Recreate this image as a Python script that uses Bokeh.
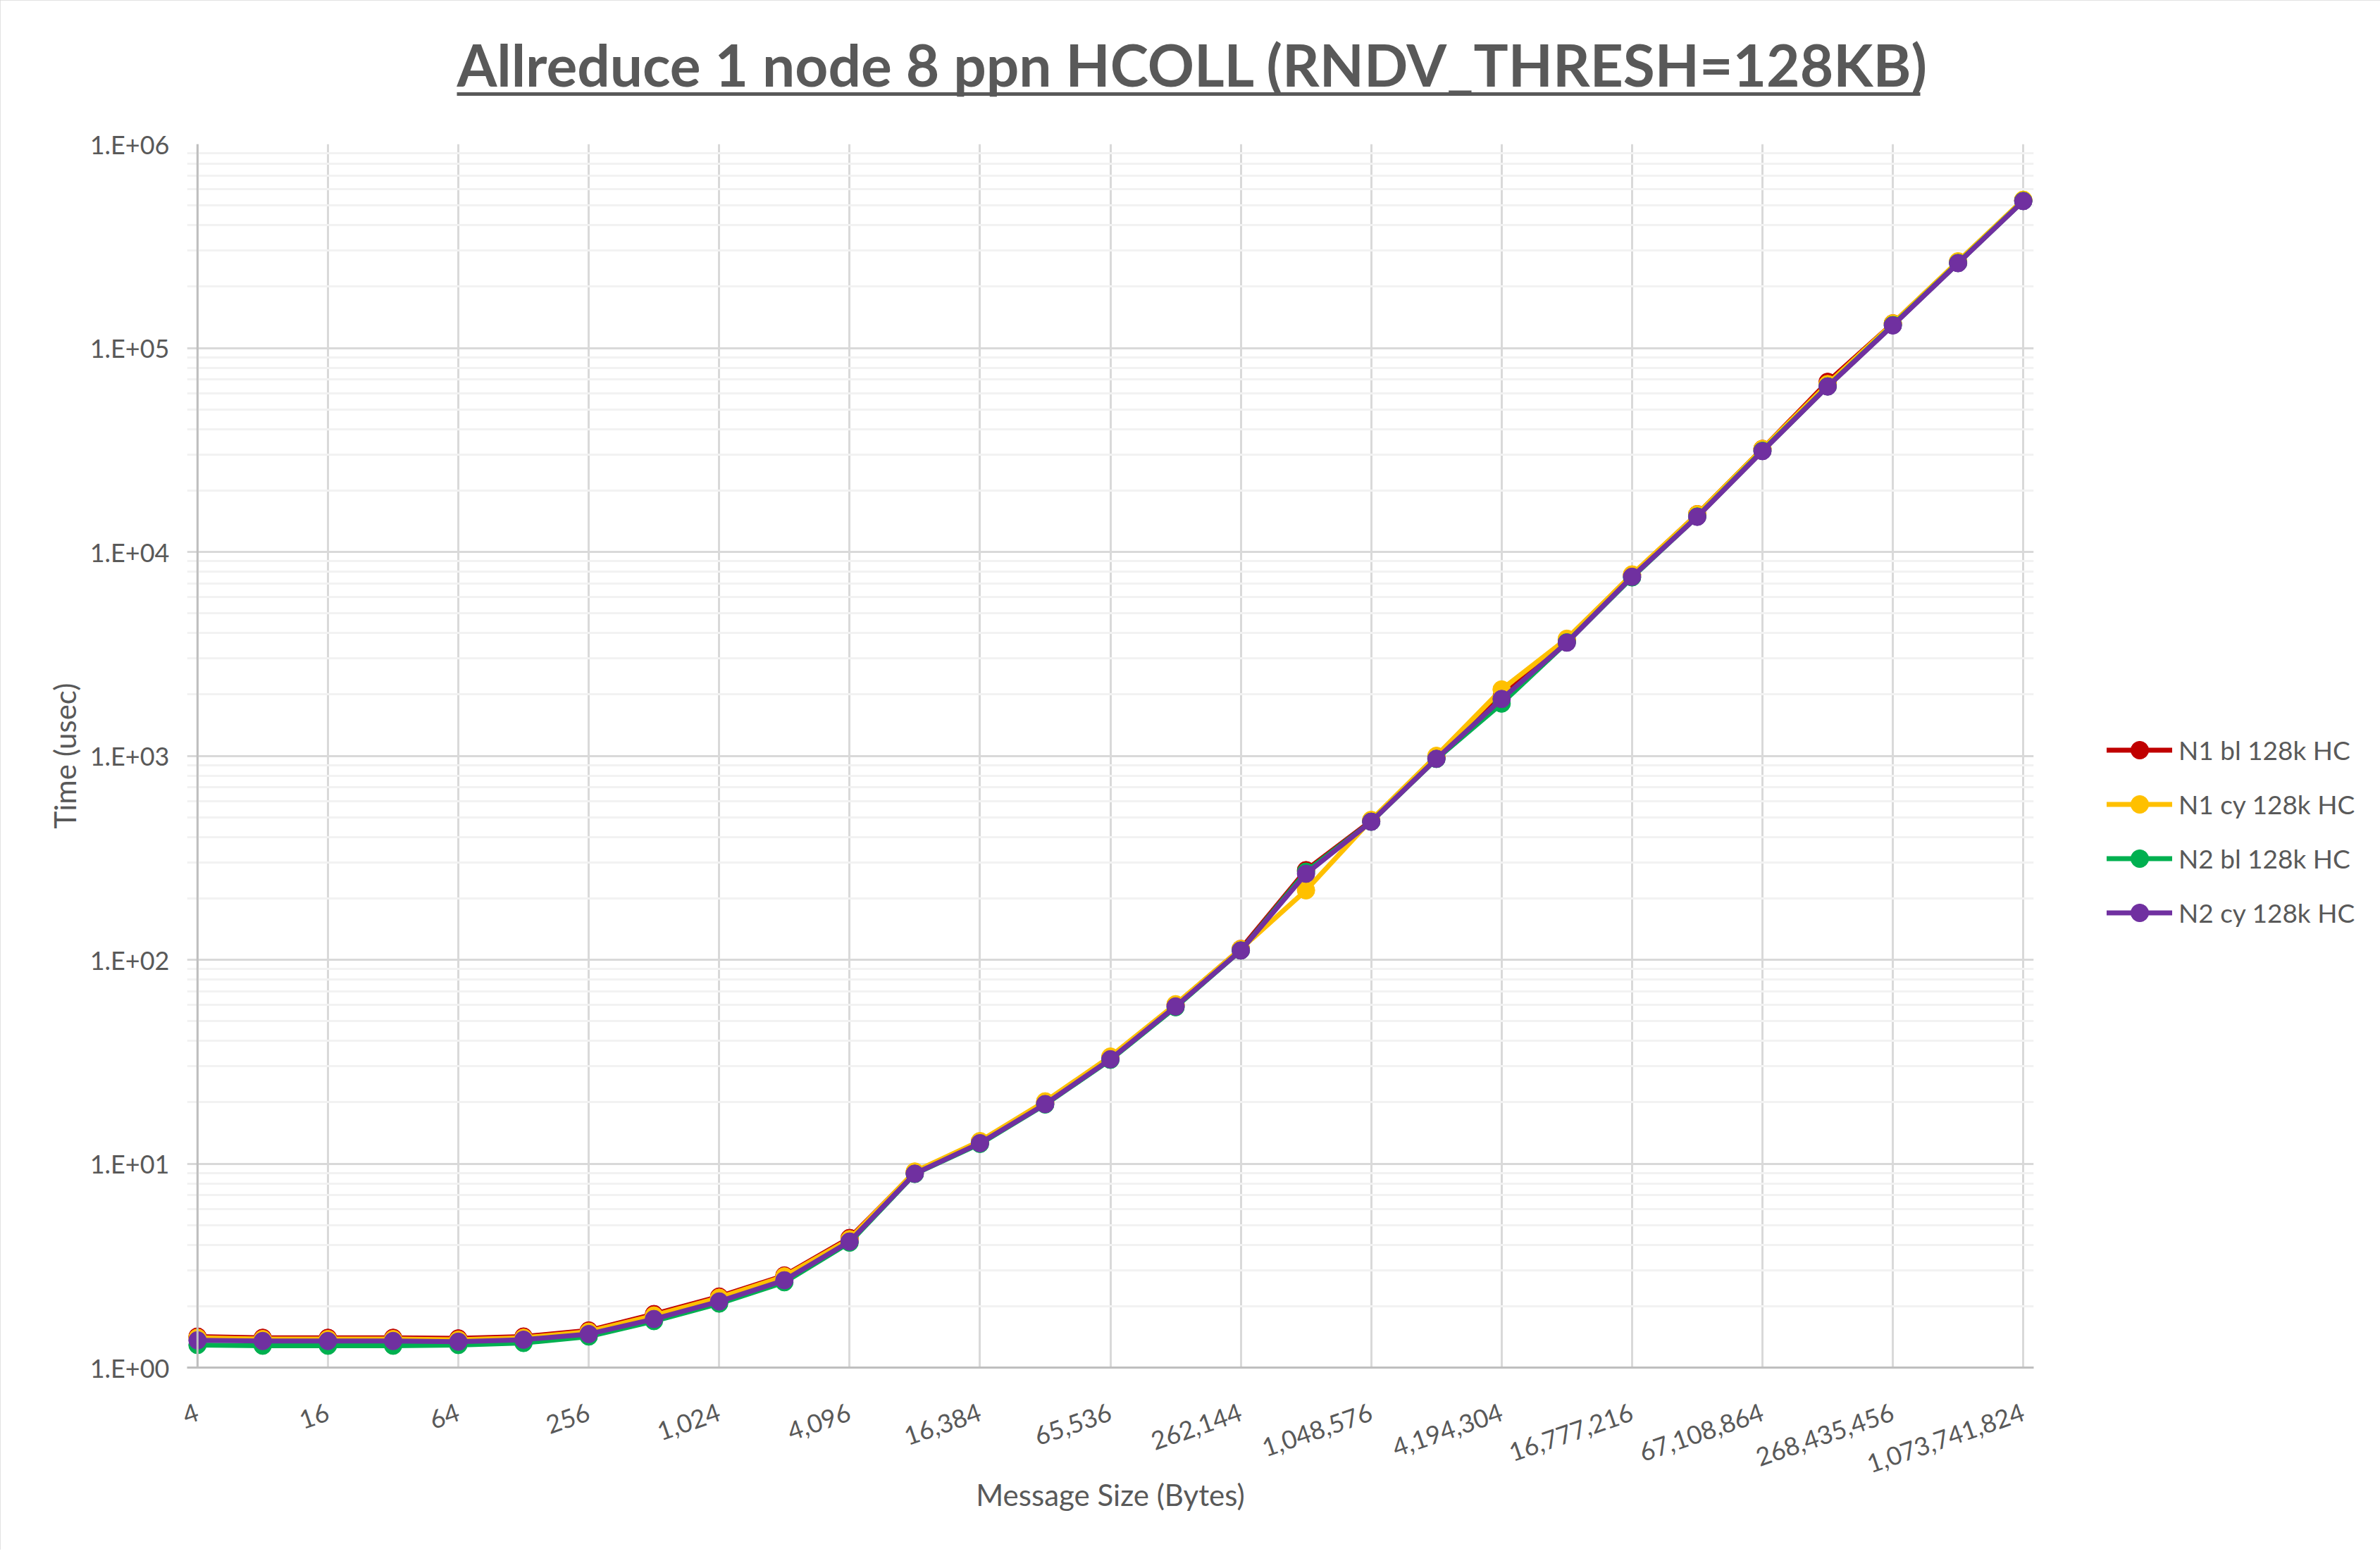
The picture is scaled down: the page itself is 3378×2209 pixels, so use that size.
import math
from bokeh.plotting import figure
from bokeh.models import (Range1d, FixedTicker, Legend, LegendItem, Span, LinearAxis,
                          LinearScale)
from bokeh.embed import file_html
from bokeh.resources import INLINE

# message sizes (bytes)
sizes = [4, 8, 16, 32, 64, 128, 256, 512, 1024, 2048, 4096, 8192, 16384, 32768,
         65536, 131072, 262144, 524288, 1048576, 2097152, 4194304, 8388608,
         16777216, 33554432, 67108864, 134217728, 268435456, 536870912, 1073741824]

# time (usec)
n1_bl = [1.42, 1.40, 1.40, 1.40, 1.39, 1.42, 1.52, 1.83, 2.23, 2.83, 4.32, 9.05, 12.8, 19.9,
         33.0, 60.0, 113, 275, 480, 985, 1950, 3700, 7700, 15300, 32000, 68200, 132000,
         264000, 530000]
n1_cy = [1.40, 1.38, 1.38, 1.38, 1.37, 1.40, 1.50, 1.80, 2.20, 2.80, 4.26, 9.15, 12.9, 20.2,
         33.5, 60.5, 113, 219, 485, 1000, 2115, 3750, 7750, 15300, 32000, 66500, 132000,
         266000, 533000]
n2_bl = [1.29, 1.28, 1.28, 1.28, 1.29, 1.32, 1.42, 1.69, 2.06, 2.62, 4.10, 8.90, 12.5, 19.5,
         32.3, 58.5, 111, 270, 475, 965, 1804, 3600, 7500, 14900, 31300, 64800, 129500,
         261000, 526000]
n2_cy = [1.36, 1.35, 1.35, 1.35, 1.34, 1.37, 1.46, 1.73, 2.11, 2.68, 4.15, 8.93, 12.6, 19.6,
         32.5, 59.0, 111, 264, 475, 967, 1900, 3590, 7550, 14860, 31200, 64700, 129000,
         260500, 525000]

series_names = ["N1 bl 128k HC", "N1 cy 128k HC", "N2 bl 128k HC", "N2 cy 128k HC"]
series_colors = ["#C00000", "#FFC000", "#00B050", "#7030A0"]

x_ticks = [4, 16, 64, 256, 1024, 4096, 16384, 65536, 262144, 1048576, 4194304,
           16777216, 67108864, 268435456, 1073741824]
x_tick_labels = ["4", "16", "64", "256", "1,024", "4,096", "16,384", "65,536", "262,144",
                 "1,048,576", "4,194,304", "16,777,216", "67,108,864", "268,435,456",
                 "1,073,741,824"]
y_ticks = [1, 10, 100, 1000, 10000, 100000, 1000000]
y_tick_labels = ["1.E+00", "1.E+01", "1.E+02", "1.E+03", "1.E+04", "1.E+05", "1.E+06"]
y_minor = [m * t for t in y_ticks[:-1] for m in range(2, 10)]

FONT = "Lato"
GREY = "#595959"

FL, FR = 265, 2886          # frame left / right on the canvas
pad = 2 ** 0.16             # room so the end markers are not cut
p = figure(x_axis_type="log", y_axis_type="log",
           x_range=Range1d(4 / pad, 1073741824 * pad), y_range=Range1d(1, 1e6),
           frame_width=FR - FL, frame_height=1737,
           min_border_left=FL, min_border_right=3370 - FR, min_border_top=204,
           min_border_bottom=259,
           output_backend="svg", toolbar_location=None,
           background_fill_color="white", border_fill_color="white")
p.outline_line_color = None
p.styles = {"outline": "3px solid #D9D9D9", "outline-offset": "-3px"}

xax = p.below[0]
yax = p.left[0]

# underline for the title: an extra axis line, lifted off the frame by a blank axis
p.extra_x_ranges = {"ul": Range1d(FL, FR)}
p.extra_x_scales = {"ul": LinearScale()}
mid = (FL + FR) / 2
spacer = LinearAxis(x_range_name="ul", ticker=FixedTicker(ticks=[mid]),
                    major_label_overrides={mid: ""}, major_label_text_font_size="0px",
                    axis_line_color=None, major_tick_line_color=None,
                    minor_tick_line_color=None, major_tick_out=71, minor_tick_out=0,
                    major_tick_in=0, major_label_standoff=0)
underline = LinearAxis(x_range_name="ul", ticker=FixedTicker(ticks=[]), bounds=(648, 2725),
                       axis_line_color=GREY, axis_line_width=5,
                       major_tick_line_color=None, minor_tick_line_color=None,
                       major_tick_out=0, minor_tick_out=0, major_label_standoff=0)
p.add_layout(spacer, "above")
p.add_layout(underline, "above")

# title
p.title.text = "Allreduce 1 node 8 ppn HCOLL (RNDV_THRESH=128KB)"
p.title.text_font = FONT
p.title.text_font_size = "82px"
p.title.text_font_style = "bold"
p.title.text_color = GREY
p.title.align = "left"
p.title.offset = 648 - FL
p.title.standoff = -12

# axes
xax.ticker = FixedTicker(ticks=x_ticks)
xax.major_label_overrides = dict(zip(x_ticks, x_tick_labels))
yax.ticker = FixedTicker(ticks=y_ticks, minor_ticks=y_minor)
yax.major_label_overrides = dict(zip(y_ticks, y_tick_labels))

for ax in (xax, yax):
    ax.major_tick_line_color = None
    ax.minor_tick_line_color = None
    ax.major_label_text_font = FONT
    ax.major_label_text_font_size = "36px"
    ax.major_label_text_color = GREY
    ax.axis_label_text_font = FONT
    ax.axis_label_text_font_size = "42px"
    ax.axis_label_text_font_style = "normal"
    ax.axis_label_text_color = GREY

xax.axis_label = "Message Size (Bytes)"
xax.major_label_orientation = math.radians(19)
xax.major_label_standoff = 56
xax.axis_label_standoff = -10
xax.axis_line_color = "#BFBFBF"
xax.axis_line_width = 3

yax.axis_label = "Time (usec)"
yax.major_label_standoff = 19
yax.axis_label_standoff = 8
yax.axis_line_color = None

p.xgrid.grid_line_color = "#D9D9D9"
p.xgrid.grid_line_width = 3
p.ygrid.grid_line_color = "#D9D9D9"
p.ygrid.grid_line_width = 3
p.ygrid.minor_grid_line_color = "#F2F2F2"
p.ygrid.minor_grid_line_width = 3

# value axis line sits at the first message size
p.add_layout(Span(location=4, dimension="height", line_color="#BFBFBF", line_width=3))

# series
items = []
for name, vals, color in zip(series_names, [n1_bl, n1_cy, n2_bl, n2_cy], series_colors):
    r_line = p.line(sizes, vals, line_color=color, line_width=7,
                    line_join="round", line_cap="round")
    r_dot = p.scatter(sizes, vals, size=25, fill_color=color, line_color=color)
    items.append(LegendItem(label=name, renderers=[r_line, r_dot]))

legend = Legend(items=items, location=(2990 - FR, 1941 - 1327), padding=0, margin=0,
                glyph_width=93, glyph_height=63, label_height=40, spacing=14,
                label_standoff=9, label_text_font=FONT, label_text_font_size="37px",
                label_text_color=GREY, border_line_color=None, background_fill_alpha=0)
p.add_layout(legend, "right")

open("out.html", "w").write(file_html(p, INLINE))
